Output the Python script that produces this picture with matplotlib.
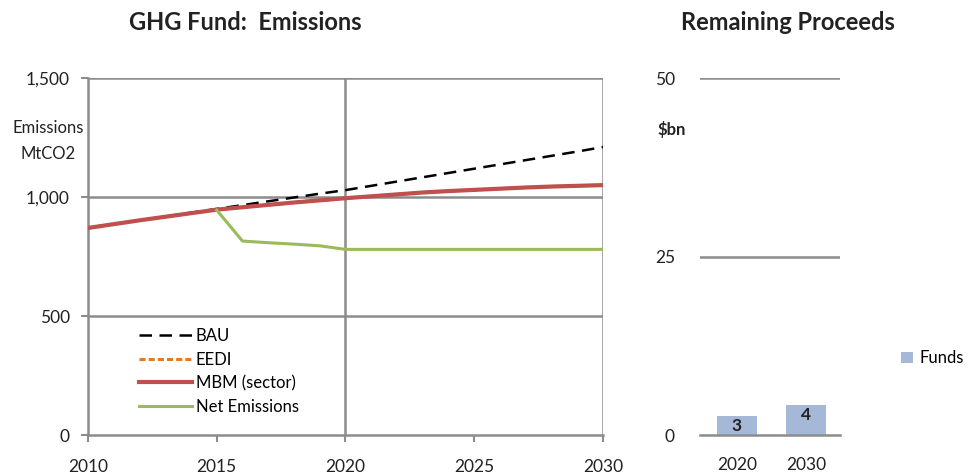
import numpy as np
from matplotlib import pyplot as plt

plt.rcParams['font.family'] = ['Lato', 'DejaVu Sans']

years = list(range(2010, 2031))
bau = [870, 886, 902, 918, 934, 950, 966, 982, 998, 1014, 1029,
       1047, 1065, 1083, 1101, 1119, 1137, 1155, 1173, 1191, 1210]
mbm = [870, 886, 902, 917, 932, 947, 957, 967, 977, 986, 995,
       1003, 1011, 1019, 1025, 1030, 1035, 1040, 1044, 1047, 1050]
eedi = mbm
net_years = list(range(2015, 2031))
net = [945, 815, 808, 802, 795, 780, 780, 780, 780, 780, 780,
       780, 780, 780, 780, 780]

fund_years = ['2020', '2030']
funds = [2.6, 4.2]
fund_labels = ['3', '4']

grey = '#8c8c8c'
txt = '#222222'
fig = plt.figure(figsize=(9.68, 4.76), dpi=100)

# left panel
ax = fig.add_axes([0.0909, 0.0861, 0.532, 0.75])
ax.plot(years, eedi, color='#e07b2a', lw=2.2, ls=(0, (2, 1)), label='EEDI', zorder=2)
ax.plot(years, bau, color='black', lw=1.8, ls=(0, (5, 3)), label='BAU', zorder=3)
ax.plot(years, mbm, color='#c0504d', lw=3, label='MBM (sector)', zorder=4)
ax.plot(net_years, net, color='#9bbb59', lw=2.2, label='Net Emissions', zorder=4)
ax.set_xlim(2010, 2030)
ax.set_ylim(0, 1500)
ax.set_xticks([2010, 2015, 2020, 2025, 2030])
ax.set_yticks([0, 500, 1000, 1500])
ax.set_yticklabels(['0', '500', '1,000', '1,500'])
ax.tick_params(labelsize=12.5, color=grey, length=5, width=1.5, pad=8, labelcolor=txt)
ax.tick_params(axis='x', pad=12)
for y in [500, 1000, 1500]:
    ax.axhline(y, color=grey, lw=1.8, zorder=1)
for x in [2020, 2030]:
    ax.axvline(x, color=grey, lw=1.8, zorder=1)
for s in ['top', 'right']:
    ax.spines[s].set_visible(False)
for s in ['left', 'bottom']:
    ax.spines[s].set_color(grey)
    ax.spines[s].set_linewidth(1.8)
h, l = ax.get_legend_handles_labels()
order = [1, 0, 2, 3]
ax.legend([h[i] for i in order], [l[i] for i in order], loc='lower left',
          bbox_to_anchor=(0.07, 0.015), frameon=False, fontsize=12,
          handlelength=3.2, handletextpad=0.2, labelspacing=0.45)
fig.text(245 / 968, 1 - 22 / 476, 'GHG Fund:  Emissions', fontsize=17, fontweight='bold',
         ha='center', va='center', color=txt)
fig.text(48 / 968, 1 - 141 / 476, 'Emissions\nMtCO2', fontsize=12, ha='center', va='center',
         linespacing=1.7, color=txt)

# right panel
ax2 = fig.add_axes([0.7231, 0.0861, 0.1446, 0.75])
x = np.arange(len(funds))
bars = ax2.bar(x, funds, width=0.575, color='#a6b8d8', label='Funds', zorder=2)
for b, t in zip(bars, fund_labels):
    ax2.text(b.get_x() + b.get_width() / 2, b.get_height() - 1.4, t,
             ha='center', va='center', fontsize=12.5, fontweight='bold', color=txt)
ax2.set_xlim(-0.532, 1.482)
ax2.set_ylim(0, 50)
ax2.set_xticks(x)
ax2.set_xticklabels(fund_years)
ax2.set_yticks([0, 25, 50])
ax2.tick_params(labelsize=12.5, length=0, pad=18, labelcolor=txt)
ax2.tick_params(axis='x', pad=16)
for y in [25, 50]:
    ax2.axhline(y, color=grey, lw=1.8, zorder=1)
for s in ['top', 'right', 'left']:
    ax2.spines[s].set_visible(False)
ax2.spines['bottom'].set_color(grey)
ax2.spines['bottom'].set_linewidth(1.8)
fig.text(788 / 968, 1 - 22 / 476, 'Remaining Proceeds', fontsize=17, fontweight='bold',
         ha='center', va='center', color=txt)
fig.text(672 / 968, 1 - 130 / 476, '$bn', fontsize=12, fontweight='bold', ha='center',
         va='center', color=txt)
ax2.legend(loc='center left', bbox_to_anchor=(1.33, 0.215), frameon=False, fontsize=12,
           handlelength=0.7, handleheight=0.7, handletextpad=0.4)

fig.savefig('out.png', dpi=100)
